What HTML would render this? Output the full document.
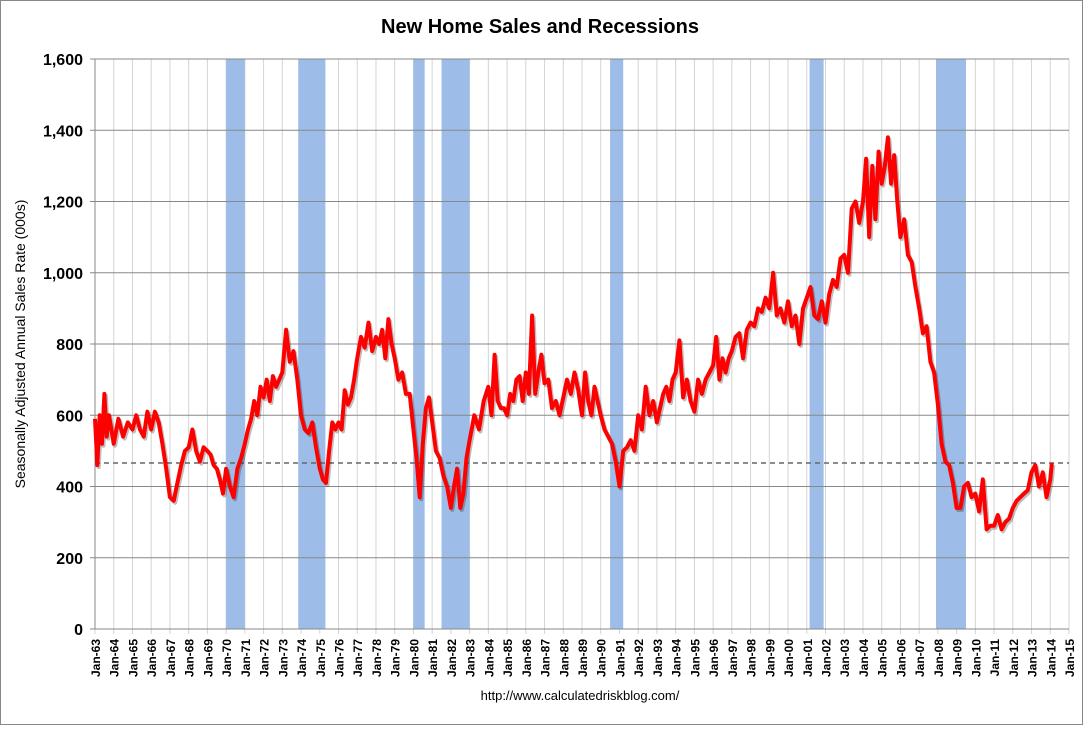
<!DOCTYPE html>
<html><head><meta charset="utf-8"><style>
body{margin:0;background:#fff;}
#wrap{position:relative;width:1084px;height:726px;font-family:"Liberation Sans",sans-serif;}
svg text{font-family:"Liberation Sans",sans-serif;}
</style></head><body>
<div id="wrap">
<svg id="chart" width="1084" height="726">
<rect x="0.5" y="0.5" width="1082" height="724" fill="#fff" stroke="#888"/>
<text x="540" y="33" text-anchor="middle" font-size="20" font-weight="bold">New Home Sales and Recessions</text>
<text transform="translate(25,344) rotate(-90)" text-anchor="middle" font-size="14">Seasonally Adjusted Annual Sales Rate (000s)</text>
<text x="580" y="700" text-anchor="middle" font-size="13">http://www.calculatedriskblog.com/</text>
<g id="g"></g>
</svg></div>
<script>
const yearLabels=[1963,1964,1965,1966,1967,1968,1969,1970,1971,1972,1973,1974,1975,1976,1977,1978,1979,1980,1981,1982,1983,1984,1985,1986,1987,1988,1989,1990,1991,1992,1993,1994,1995,1996,1997,1998,1999,2000,2001,2002,2003,2004,2005,2006,2007,2008,2009,2010,2011,2012,2013,2014];
const valuesByYear=[
[590,460,600,520,660,540,600,560],[520,590,540,580],[560,600,560,540,610],[560,610,580,520,450],
[370,360,410,460,500],[510,560,500,470,510],[500,490,460,450,420,380],[450,400,370,450,480],
[520,560,590,640,600,680],[650,700,640,710,680,700],[720,840,750,780,700],[600,560,550,580,510],
[450,420,410,500,580,560],[580,560,670,630,650,700],[760,820,790,860,780],[820,800,840,760,870,800],
[760,700,720,660,660],[560,480,370,520,620,650],[580,500,480,430,400],[340,400,450,340,380,480],
[530,600,560,640],[680,600,770,640,620,620],[600,660,640,700,710,640],[720,660,880,660,720,770],
[690,700,620,640,600],[650,700,660,720,670],[600,720,640,600,680,640],[600,560,540,520,470],
[400,500,510,530,500],[600,560,680,600,640],[580,620,660,680,640,700],[720,810,650,700,640],
[610,700,660,700,720],[740,820,700,760,720,760],[780,820,830,760,840],[860,850,900,890,930],
[900,1000,880,900,860],[920,850,880,800,900],[930,960,880,870,920],[860,940,980,960,1040],
[1050,1000,1180,1200,1140],[1200,1320,1100,1300,1150,1340],[1250,1300,1380,1250,1330,1200],[1100,1150,1050,1030,960],
[900,830,850,750,720],[630,520,470,460,410],[340,340,400,410,370],[380,330,420,280,290],
[290,320,280,300,310],[340,360,370,380,390],[440,460,400,440,370],[420,466]];
const recStart=[1970.0,1973.85,1980.0,1981.5,1990.5,2001.15,2007.9];
const recEnd=[1971.0,1975.3,1980.6,1983.0,1991.2,2001.9,2009.5];
const yTicks=[0,200,400,600,800,1000,1200,1400,1600];
const refValue=466;
const L=95,R=1069,T=59,B=629,Y0=1963,Y1=2015,VMAX=1600;
const sx=d=>L+(d-Y0)/(Y1-Y0)*(R-L);
const sy=v=>B-v/VMAX*(B-T);
const NS="http://www.w3.org/2000/svg",g=document.getElementById('g');
function mk(t,a){const e=document.createElementNS(NS,t);for(const k in a)e.setAttribute(k,a[k]);g.appendChild(e);return e;}
for(let y=Y0;y<=Y1;y++){const x=sx(y);
 const l=mk('line',{x1:x,x2:x,y1:T,y2:B+5,stroke:'#d4d4d4','stroke-width':1});
 
 
 const t=mk('text',{transform:`translate(${x+5},${B+10}) rotate(-90)`,'text-anchor':'end','font-size':12,'font-weight':'bold'});
 t.textContent='Jan-'+String(y).slice(2);
 
 
}
for(let i=0;i<recStart.length;i++){
 const r=mk('rect',{x:sx(recStart[i]),y:T,width:sx(recEnd[i])-sx(recStart[i]),height:B-T,fill:'#9dbde8'});
 
 
}
yTicks.forEach(v=>{const y=sy(v);
 const l=mk('line',{x1:L-5,x2:R,y1:y,y2:y,stroke:'#888','stroke-width':1});
 
 
 const t=mk('text',{x:L-12,y:y+6,'text-anchor':'end','font-size':16,'font-weight':'bold'});
 t.textContent=v.toLocaleString('en-US');
 
 
});
const ax=mk('line',{x1:L,x2:L,y1:T,y2:B,stroke:'#888'});


const rl=mk('line',{x1:L,x2:R,y1:sy(refValue),y2:sy(refValue),stroke:'#666','stroke-width':1.5,'stroke-dasharray':'5,4'});


const pts=[];
yearLabels.forEach((yr,i)=>{const arr=valuesByYear[i];const n=(i===yearLabels.length-1)?12:arr.length;
 arr.forEach((v,j)=>pts.push([sx(yr+j/n),sy(v)]));});
const d='M'+pts.map(p=>p[0].toFixed(1)+','+p[1].toFixed(1)).join('L');
const sh=mk('path',{d:d,fill:'none',stroke:'rgba(0,0,0,0.25)','stroke-width':4,transform:'translate(1.5,2)','stroke-linejoin':'round'});


const ln=mk('path',{d:d,fill:'none',stroke:'#f00','stroke-width':4,'stroke-linejoin':'round'});


</script>
</body></html>
